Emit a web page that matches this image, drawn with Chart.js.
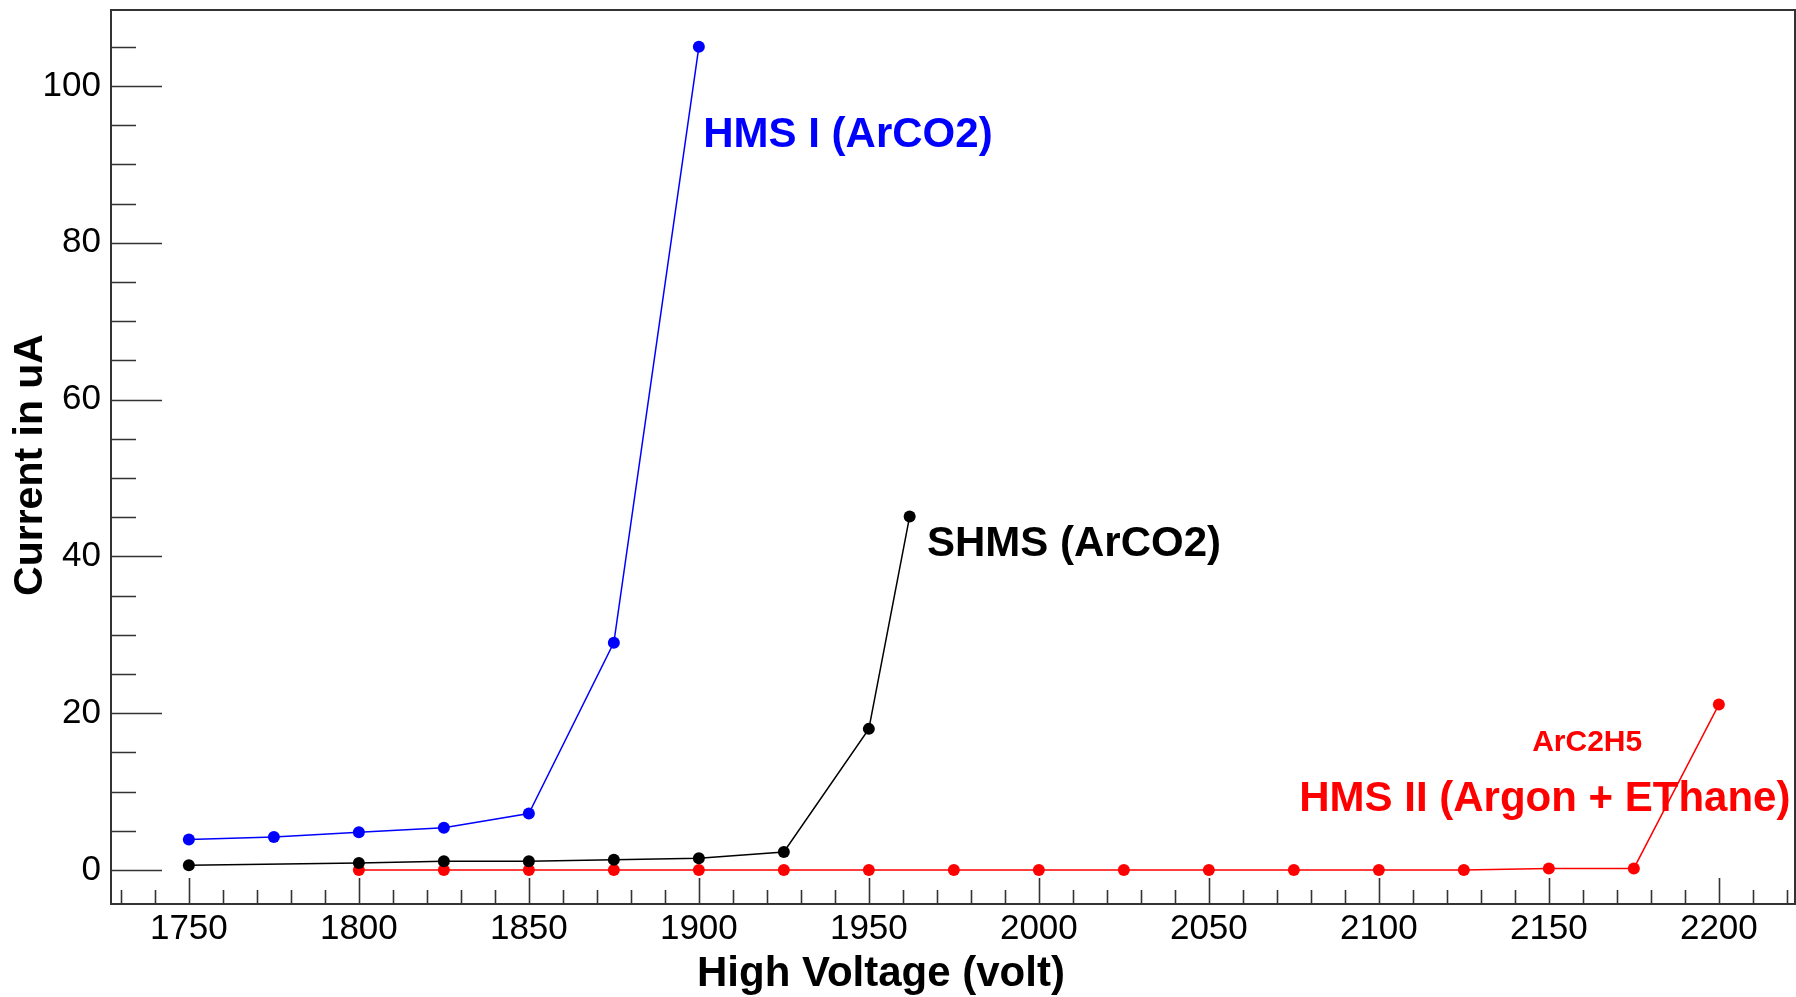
<!DOCTYPE html>
<html>
<head>
<meta charset="utf-8">
<script src="https://cdn.jsdelivr.net/npm/chart.js@4.4.0/dist/chart.umd.min.js"></script>
<style>
  html, body { margin: 0; padding: 0; background: #fff; overflow: hidden; }
  canvas { display: block; }
</style>
</head>
<body>
<canvas id="hvChart" width="1796" height="997"></canvas>
<script>
// Current vs high voltage for the three drift chambers
const hmsIVolts = [1750, 1775, 1800, 1825, 1850, 1875, 1900];
const hmsICurrent = [3.9, 4.2, 4.8, 5.4, 7.2, 29.0, 105.0];

const shmsVolts = [1750, 1800, 1825, 1850, 1875, 1900, 1925, 1950, 1962];
const shmsCurrent = [0.6, 0.9, 1.1, 1.1, 1.3, 1.5, 2.3, 18.0, 45.1];

const hmsIIVolts = [1800, 1825, 1850, 1875, 1900, 1925, 1950, 1975, 2000,
                    2025, 2050, 2075, 2100, 2125, 2150, 2175, 2200];
const hmsIICurrent = [0, 0, 0, 0, 0, 0, 0, 0, 0, 0, 0, 0, 0, 0, 0.2, 0.2, 21.1];

// axis ticks and ranges
const xTicks = [1750, 1800, 1850, 1900, 1950, 2000, 2050, 2100, 2150, 2200];
const yTicks = [0, 20, 40, 60, 80, 100];
const xRange = [1727.1, 2222.4];
const yRange = [-4.34, 109.7];

// text labels placed in data coordinates
const labelTexts = ['HMS I (ArCO2)', 'SHMS (ArCO2)', 'HMS II (Argon + EThane)', 'ArC2H5'];
const labelX = [1901.3, 1967.1, 2076.6, 2145.1];
const labelY = [92.2, 40.0, 7.5, 15.2];
const labelColors = ['#0000ff', '#000000', '#ff0000', '#ff0000'];
const labelSizes = [42, 42, 42, 30];

const FONT = "'Liberation Sans', Arial, Helvetica, sans-serif";
Chart.defaults.font.family = FONT;

const toPoints = (xs, ys) => xs.map((v, i) => ({ x: v, y: ys[i] }));

function series(label, xs, ys, color) {
    return {
        label: label,
        data: toPoints(xs, ys),
        borderColor: color,
        backgroundColor: color,
        borderWidth: 1.5,
        pointRadius: 6,
        pointBorderWidth: 0,
        pointHoverRadius: 6,
        tension: 0,
        fill: false
    };
}

// no extra room for edge labels, the frame is fixed
function fixBox(s, size) {
    if (s.isHorizontal()) s.height = size; else s.width = size;
    s.paddingTop = 0;
    s.paddingBottom = 0;
    s.paddingLeft = 0;
    s.paddingRight = 0;
}

// ROOT-style frame with inward ticks
const frameTicks = {
    id: 'frameTicks',
    afterLayout(chart) {
        // frame runs to the right edge of the canvas
        const a = chart.chartArea;
        const x = chart.scales.x;
        const r = chart.width - 1;
        a.right = r;
        a.width = r - a.left;
        x.right = r;
        x.width = r - x.left;
        x.configure();
    },
    beforeDatasetsDraw(chart) {
        const { ctx, chartArea: a, scales: { x, y } } = chart;
        ctx.save();
        ctx.strokeStyle = '#333';
        ctx.lineWidth = 1.6;
        ctx.beginPath();
        for (let v = 1730; v <= 2220; v += 10) {
            const px = Math.round(x.getPixelForValue(v)) + 0.5;
            const len = v % 50 === 0 ? 26 : 14;
            ctx.moveTo(px, a.bottom);
            ctx.lineTo(px, a.bottom - len);
        }
        for (let v = 0; v <= 105; v += 5) {
            const py = Math.round(y.getPixelForValue(v)) + 0.5;
            const len = v % 20 === 0 ? 51 : 25;
            ctx.moveTo(a.left, py);
            ctx.lineTo(a.left + len, py);
        }
        ctx.stroke();
        ctx.lineWidth = 2;
        ctx.strokeRect(a.left, a.top, a.right - a.left, a.bottom - a.top);
        ctx.restore();
    },
    afterDatasetsDraw(chart) {
        const { ctx, scales: { x, y } } = chart;
        ctx.save();
        ctx.textAlign = 'left';
        ctx.textBaseline = 'alphabetic';
        labelTexts.forEach((t, i) => {
            ctx.fillStyle = labelColors[i];
            ctx.font = `bold ${labelSizes[i]}px ${FONT}`;
            ctx.fillText(t, x.getPixelForValue(labelX[i]), y.getPixelForValue(labelY[i]));
        });

        // axis titles
        ctx.fillStyle = '#000';
        ctx.font = `bold 42px ${FONT}`;
        ctx.fillText('High Voltage (volt)', 697, 986);
        ctx.translate(42, 465);
        ctx.rotate(-Math.PI / 2);
        ctx.textAlign = 'center';
        ctx.font = `bold 41px ${FONT}`;
        ctx.fillText('Current in uA', 0, 0);
        ctx.restore();
    }
};

new Chart(document.getElementById('hvChart'), {
    type: 'line',
    data: {
        datasets: [
            series('HMS I (ArCO2)', hmsIVolts, hmsICurrent, '#0000ff'),
            series('SHMS (ArCO2)', shmsVolts, shmsCurrent, '#000000'),
            series('HMS II (Argon + EThane)', hmsIIVolts, hmsIICurrent, '#ff0000')
        ]
    },
    options: {
        responsive: false,
        animation: false,
        layout: { padding: { top: 10, right: 1, left: 0, bottom: 0 } },
        plugins: {
            legend: { display: false },
            tooltip: { enabled: false }
        },
        scales: {
            x: {
                type: 'linear',
                min: xRange[0],
                max: xRange[1],
                afterBuildTicks: s => { s.ticks = xTicks.map(v => ({ value: v })); },
                afterFit: s => fixBox(s, 93),
                grid: { display: false, drawTicks: false },
                border: { display: false },
                ticks: {
                    color: '#000',
                    font: { size: 35 },
                    padding: 4,
                    maxRotation: 0,
                    autoSkip: false,
                    callback: v => String(v)
                }
            },
            y: {
                type: 'linear',
                min: yRange[0],
                max: yRange[1],
                afterBuildTicks: s => { s.ticks = yTicks.map(v => ({ value: v })); },
                afterFit: s => fixBox(s, 111),
                grid: { display: false, drawTicks: false },
                border: { display: false },
                ticks: {
                    color: '#000',
                    font: { size: 35 },
                    padding: 10,
                    callback: v => String(v)
                }
            }
        }
    },
    plugins: [frameTicks]
});
</script>
</body>
</html>
